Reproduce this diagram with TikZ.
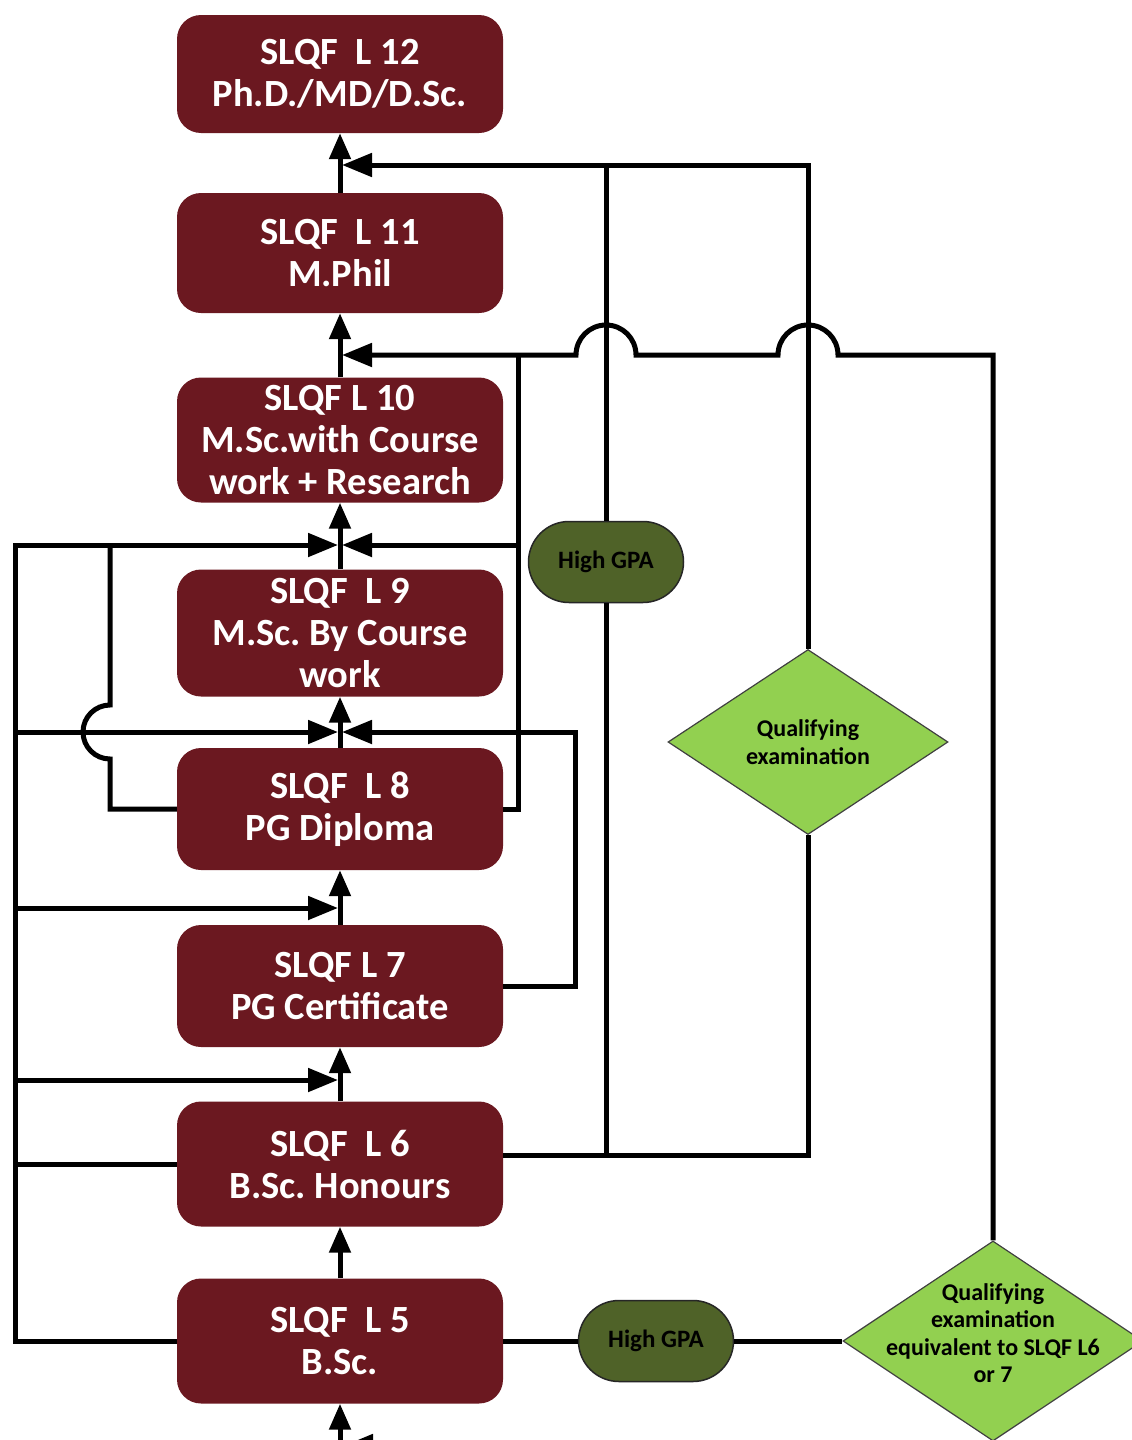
\documentclass[tikz,border=0pt]{standalone}
\usepackage{fontspec}
\setmainfont{Carlito}
\usetikzlibrary{arrows.meta,shapes.geometric,shapes.misc}
\definecolor{boxred}{HTML}{6B1820}
\definecolor{gpaolive}{HTML}{4F6228}
\definecolor{qualgreen}{HTML}{92D050}
\frenchspacing
\begin{document}
\begin{tikzpicture}[x=1pt,y=-1pt,
  lvl/.style={fill=boxred, rounded corners=24pt, minimum width=326pt, text=white,
    font=\fontsize{38.5}{42}\selectfont\bfseries, align=center, inner sep=0pt},
  gpa/.style={rounded rectangle, fill=gpaolive, draw=black!85, line width=1.5pt,
    minimum width=155pt, minimum height=81pt, inner sep=0pt,
    font=\fontsize{25}{28}\selectfont\bfseries, text=black},
  qual/.style={diamond, fill=qualgreen, draw=black!75, line width=1.2pt, inner sep=0pt},
  qtext/.style={font=\fontsize{24}{27.5}\selectfont\bfseries, text=black, align=center, inner sep=0pt},
  conn/.style={line width=5pt, line join=miter},
  uarr/.style={conn, -{Triangle[length=26pt,width=21pt]}},
  harr/.style={conn, -{Triangle[length=30pt,width=23pt]}},
]
\useasboundingbox (0,0) rectangle (1132,1440);
\clip (0,0) rectangle (1132,1440);
\fill[white] (0,0) rectangle (1132,1440);

% level boxes
\node[lvl, minimum height=118pt] (L12) at (340,74)   {SLQF\ \ L 12\\Ph.D./MD/D.Sc.};
\node[lvl, minimum height=120pt] (L11) at (340,253)  {SLQF\ \ L 11\\M.Phil};
\node[lvl, minimum height=125pt] (L10) at (340,440)  {SLQF L 10\\M.Sc.with Course\\work + Research};
\node[lvl, minimum height=127pt] (L9)  at (340,633)  {SLQF\ \ L 9\\M.Sc. By Course\\work};
\node[lvl, minimum height=122pt] (L8)  at (340,809)  {SLQF\ \ L 8\\PG Diploma};
\node[lvl, minimum height=122pt] (L7)  at (340,986)  {SLQF L 7\\PG Certificate};
\node[lvl, minimum height=125pt] (L6)  at (340,1164) {SLQF\ \ L 6\\B.Sc. Honours};
\node[lvl, minimum height=125pt] (L5)  at (340,1341) {SLQF\ \ L 5\\B.Sc.};

% decision nodes
\node[gpa] (G1) at (606,562) {High GPA};
\node[gpa] (G2) at (656,1341) {High GPA};
\node[qual, minimum width=280pt, minimum height=185pt,
  label={[qtext]center:Qualifying\\examination}] (Q1) at (808,742) {};
\node[qual, minimum width=300pt, minimum height=200pt,
  label={[qtext, yshift=8pt]center:Qualifying\\examination\\equivalent to SLQF L6\\or 7}] (Q2) at (993,1341) {};

% spine coordinates
\coordinate (bot) at (340,1440);
\coordinate (brS) at (400,1446);
\coordinate (brT) at (343,1446);
\coordinate (LA) at (15,545);
\coordinate (LB) at (15,732);
\coordinate (LC) at (15,908);
\coordinate (LD) at (15,1080);
\coordinate (sAl) at (338,545);
\coordinate (sAr) at (342,545);
\coordinate (sBl) at (338,732);
\coordinate (sBr) at (342,732);
\coordinate (sCl) at (338,908);
\coordinate (sDl) at (338,1080);
\coordinate (s355) at (342,355);
\coordinate (s165) at (342,165);
\coordinate (j6) at (606,1155);
\coordinate (jtop) at (606,165);
\coordinate (r518) at (518,355);
\coordinate (r518b) at (518,545);
\coordinate (r575) at (575,732);
\coordinate (k110a) at (110,545);
\coordinate (k110b) at (110,759);

% spine arrows
\draw[uarr] (bot) -- (L5.south);
\draw[uarr] (L5.north) -- (L6.south);
\draw[uarr] (L6.north) -- (L7.south);
\draw[uarr] (L7.north) -- (L8.south);
\draw[uarr] (L8.north) -- (L9.south);
\draw[uarr] (L9.north) -- (L10.south);
\draw[uarr] (L10.north) -- (L11.south);
\draw[uarr] (L11.north) -- (L12.south);
\draw[harr] (brS) -- (brT);

% left bus
\draw[harr] (L5.west) -| (LA) -- (sAl);
\draw[conn] (L6.west) -- (L6.west -| LA);
\draw[harr] (LB) -- (sBl);
\draw[harr] (LC) -- (sCl);
\draw[harr] (LD) -- (sDl);
\draw[conn] (L8.west) -| (k110b) arc[start angle=90, end angle=270, radius=27] -- (k110a);

% right side from L8 and L7
\draw[conn] (L8.east) -| (r518);
\draw[harr] (r518b) -- (sAr);
\draw[harr] (L7.east) -| (r575) -- (sBr);

% from L6 via High GPA / qualifying exam to L12
\draw[conn] ([yshift=9pt]L6.east) -| (Q1.south);
\draw[conn] (G1.south) -- (j6);
\draw[conn] (G1.north) -- (jtop);
\draw[harr] (Q1.north) |- (s165);

% from L5 via High GPA / qualifying exam to L11
\draw[conn] (L5.east) -- (G2.west);
\draw[conn] (G2.east) -- (Q2.west);
\draw[harr] (Q2.north) -- (993,355) -- (838,355)
  arc[start angle=0, end angle=-180, radius=30] -- (636,355)
  arc[start angle=0, end angle=-180, radius=30] -- (s355);
\end{tikzpicture}
\end{document}
